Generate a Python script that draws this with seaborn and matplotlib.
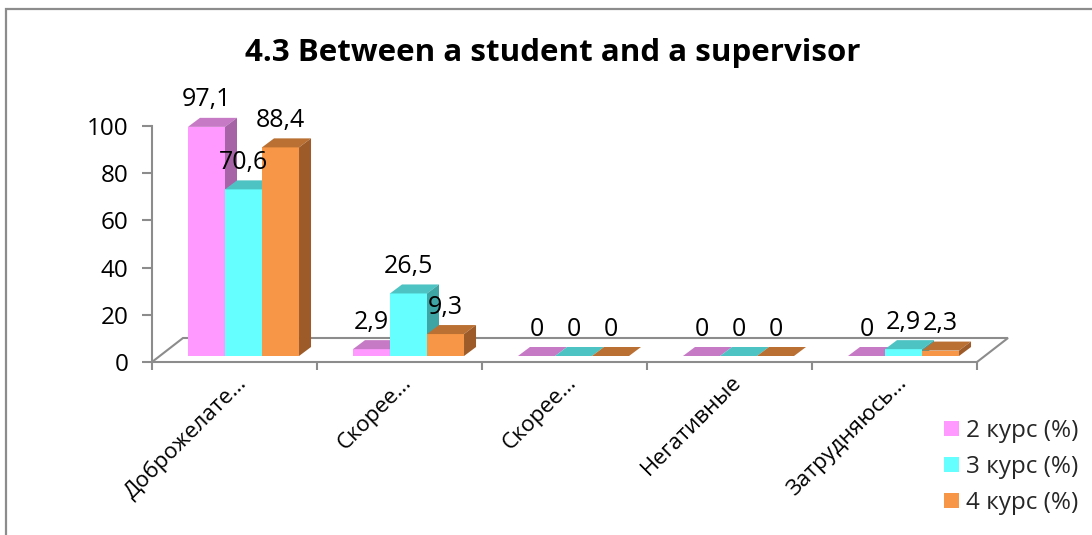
import matplotlib
matplotlib.use("Agg")
import matplotlib.pyplot as plt
import numpy as np
import pandas as pd
import seaborn as sns
from matplotlib.patches import Polygon, Rectangle
from matplotlib.transforms import ScaledTranslation

# ---- data ----
categories = ["Доброжелате…", "Скорее…", "Скорее…", "Негативные", "Затрудняюсь…"]
series = ["2 курс (%)", "3 курс (%)", "4 курс (%)"]
course2 = [97.1, 2.9, 0, 0, 0]
course3 = [70.6, 26.5, 0, 0, 2.9]
course4 = [88.4, 9.3, 0, 0, 2.3]
y_ticks = [0, 20, 40, 60, 80, 100]
title = "4.3 Between a student and a supervisor"

front_colors = ["#FF99FF", "#66FFFF", "#F79646"]
top_colors = ["#C67AC6", "#4EC3C3", "#BA7033"]
side_colors = ["#A663A6", "#3FA4A4", "#9C5B28"]
grid_gray = "#8C8C8C"

rows = []
for name, vals in zip(series, [course2, course3, course4]):
    for i, v in enumerate(vals):
        rows.append({"pos": i, "series": name, "value": v})
df = pd.DataFrame(rows)

sns.set_theme(style="white")
plt.rcParams["font.family"] = ["Open Sans", "DejaVu Sans"]

W, H = 1092, 535
fig = plt.figure(figsize=(W / 100, H / 100), dpi=100)
fig.patch.set_facecolor("white")

# plot area: front floor edge at y=362px, value 100 at y=126px
ax = fig.add_axes([152 / W, (H - 362) / H, 825 / W, 236 / H])
sns.barplot(data=df, x="pos", y="value", hue="series", palette=front_colors,
            width=0.673, saturation=1, errorbar=None, linewidth=0,
            ax=ax)
ax.set_xlim(-0.5, 4.5)
ax.set_ylim(0, 100)
ax.set_facecolor("none")

ppx = 825 / 5.0      # pixels per category unit
ppy = 236 / 100.0    # pixels per value unit

# bars sit a little behind the front edge of the floor
bar_shift = ScaledTranslation(9 / 100, 6 / 100, fig.dpi_scale_trans)
bar_tr = ax.transData + bar_shift
ddx, ddy = 12 / ppx, 9 / ppy   # bar depth

for si, cont in enumerate(ax.containers):
    z = 3 + si
    for rect in cont:
        rect.set_transform(bar_tr)
        rect.set_clip_on(False)
        rect.set_zorder(z)
        x0, w, h = rect.get_x(), rect.get_width(), rect.get_height()
        top = Polygon([(x0, h), (x0 + w, h), (x0 + w + ddx, h + ddy), (x0 + ddx, h + ddy)],
                      closed=True, facecolor=top_colors[si], edgecolor="none",
                      transform=bar_tr, clip_on=False, zorder=z + 0.1)
        side = Polygon([(x0 + w, 0), (x0 + w + ddx, ddy), (x0 + w + ddx, h + ddy), (x0 + w, h)],
                       closed=True, facecolor=side_colors[si], edgecolor="none",
                       transform=bar_tr, clip_on=False, zorder=z + 0.1)
        ax.add_patch(top)
        ax.add_patch(side)
        label = f"{h:g}".replace(".", ",")
        ax.annotate(label, (x0 + w / 2, h), xycoords=bar_tr,
                    xytext=(0, 27), textcoords="offset pixels",
                    ha="center", va="center", fontsize=18, color="black",
                    zorder=10, annotation_clip=False)

# floor outline (3D look)
fdx, fdy = 31 / ppx, 24 / ppy
floor_x = [-0.5, -0.5 + fdx, 4.5 + fdx, 4.5]
floor_y = [0, fdy, fdy, 0]
ax.plot(floor_x, floor_y, color=grid_gray, lw=1.5, clip_on=False, zorder=1,
        solid_joinstyle="miter")

# axes styling
for s in ["top", "right"]:
    ax.spines[s].set_visible(False)
for s in ["left", "bottom"]:
    ax.spines[s].set_color(grid_gray)
    ax.spines[s].set_linewidth(1.5)
ax.set_yticks(y_ticks)
ax.set_yticklabels([str(t) for t in y_ticks])
ax.tick_params(axis="y", which="major", left=True, length=7, width=1.5,
               color=grid_gray, labelsize=17.5, pad=10, labelcolor="black")
ax.set_xticks(range(len(categories)))
ax.set_xticks(np.arange(-0.5, len(categories)), minor=True)
ax.set_xticklabels(categories, rotation=45, ha="right", va="center",
                   rotation_mode="anchor", fontsize=16, color="black")
ax.tick_params(axis="x", which="major", bottom=True, length=0, pad=12.5)
ax.tick_params(axis="x", which="minor", bottom=True, length=5.5, width=1.5,
               color=grid_gray)
lab_shift = ScaledTranslation(9 / 100, 0, fig.dpi_scale_trans)
for lab in ax.get_xticklabels():
    lab.set_transform(lab.get_transform() + lab_shift)
ax.set_xlabel("")
ax.set_ylabel("")

# legend
sns.move_legend(ax, "center left", bbox_to_anchor=(932 / W, 1 - 467 / H),
                bbox_transform=fig.transFigure, frameon=False, title=None,
                fontsize=17.5, handlelength=0.6, handleheight=0.6,
                handletextpad=0.3, labelspacing=0.5, borderpad=0)

fig.text(553 / W, 1 - 53 / H, title, ha="center", va="center",
         fontsize=22.5, fontweight="bold", color="black")

# outer chart frame
fig.patches.append(Rectangle((6 / W, -0.2), 2, 1.2 - 9 / H, fill=False,
                             edgecolor=grid_gray, lw=1.6,
                             transform=fig.transFigure, figure=fig))

fig.savefig("out.png", dpi=100, facecolor="white")
